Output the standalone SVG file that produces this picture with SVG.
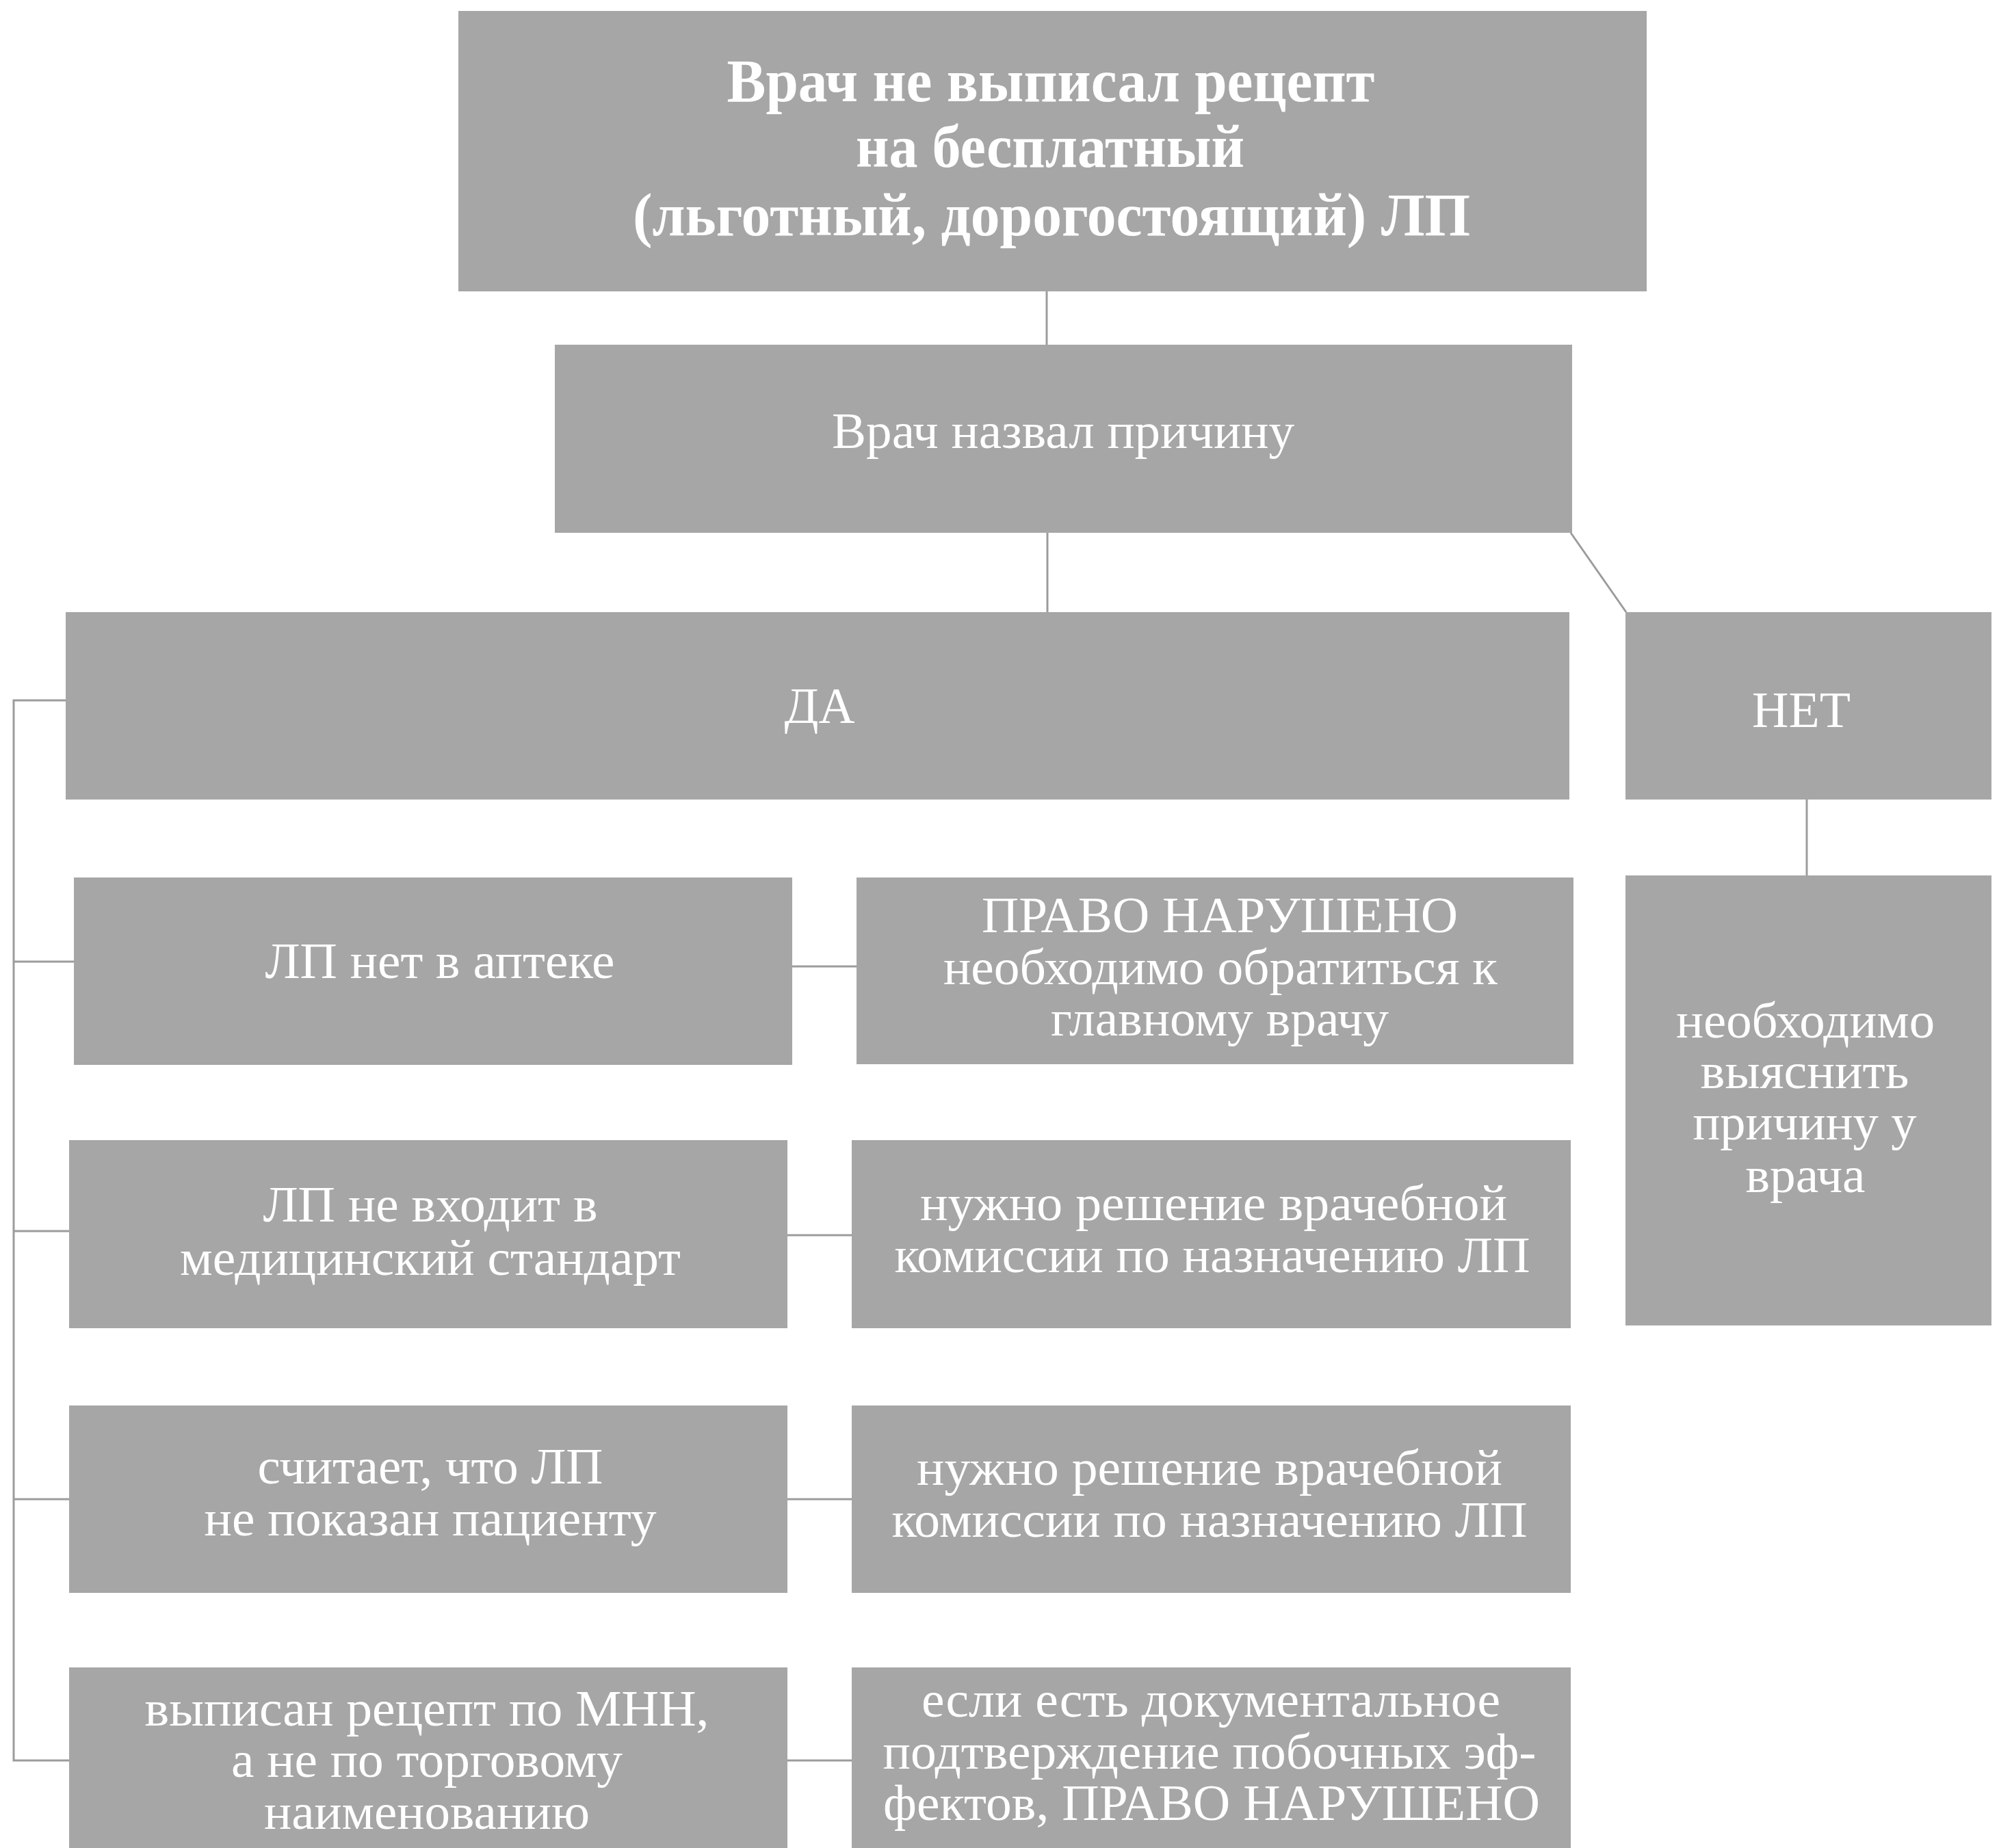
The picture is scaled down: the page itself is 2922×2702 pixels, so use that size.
<svg xmlns="http://www.w3.org/2000/svg" width="2922" height="2702" viewBox="0 0 2922 2702">
<style>
.box{fill:#a6a6a6}
.t{font-family:"Liberation Serif","Times New Roman",serif;fill:#ffffff;text-anchor:middle;font-size:74px}
.b{font-weight:bold;font-size:88px}
.c{stroke:#9c9c9c;stroke-width:3;fill:none}
</style>
<rect width="2922" height="2702" fill="#ffffff"/>
<g id="connectors">
<line class="c" x1="1530" y1="426" x2="1530" y2="504"/>
<line class="c" x1="1531" y1="779" x2="1531" y2="895"/>
<line class="c" x1="2296" y1="779" x2="2377" y2="895"/>
<line class="c" x1="2641" y1="1169" x2="2641" y2="1280"/>
<polyline class="c" points="96,1024 20,1024 20,2574 102,2574"/>
<line class="c" x1="20" y1="1406" x2="108" y2="1406"/>
<line class="c" x1="20" y1="1800" x2="101" y2="1800"/>
<line class="c" x1="20" y1="2192" x2="101" y2="2192"/>
<line class="c" x1="1158" y1="1413" x2="1252" y2="1413"/>
<line class="c" x1="1151" y1="1806" x2="1245" y2="1806"/>
<line class="c" x1="1151" y1="2192" x2="1245" y2="2192"/>
<line class="c" x1="1151" y1="2574" x2="1245" y2="2574"/>
</g>
<g id="n-top">
<rect class="box" x="670" y="16" width="1737" height="410"/>
<text class="t b" x="1536" y="148" textLength="947" lengthAdjust="spacingAndGlyphs">Врач не выписал рецепт</text>
<text class="t b" x="1535" y="244" textLength="568" lengthAdjust="spacingAndGlyphs">на бесплатный</text>
<text class="t b" x="1537" y="344" textLength="1224" lengthAdjust="spacingAndGlyphs">(льготный, дорогостоящий) ЛП</text>
</g>
<g id="n-reason">
<rect class="box" x="811" y="504" width="1487" height="275"/>
<text class="t" x="1554" y="655" textLength="676" lengthAdjust="spacingAndGlyphs">Врач назвал причину</text>
</g>
<g id="n-yes">
<rect class="box" x="96" y="895" width="2198" height="274"/>
<text class="t" x="1198" y="1057" textLength="103" lengthAdjust="spacingAndGlyphs">ДА</text>
</g>
<g id="n-no">
<rect class="box" x="2376" y="895" width="535" height="274"/>
<text class="t" x="2633" y="1063" textLength="144" lengthAdjust="spacingAndGlyphs">НЕТ</text>
</g>
<g id="n-no-res">
<rect class="box" x="2376" y="1280" width="535" height="658"/>
<text class="t" x="2639" y="1517" textLength="378" lengthAdjust="spacingAndGlyphs">необходимо</text>
<text class="t" x="2638" y="1591" textLength="305" lengthAdjust="spacingAndGlyphs">выяснить</text>
<text class="t" x="2638" y="1666" textLength="327" lengthAdjust="spacingAndGlyphs">причину у</text>
<text class="t" x="2639" y="1743" textLength="175" lengthAdjust="spacingAndGlyphs">врача</text>
</g>
<g id="n-r1-left">
<rect class="box" x="108" y="1283" width="1050" height="274"/>
<text class="t" x="643" y="1430" textLength="511" lengthAdjust="spacingAndGlyphs">ЛП нет в аптеке</text>
</g>
<g id="n-r1-right">
<rect class="box" x="1252" y="1283" width="1048" height="273"/>
<text class="t" x="1783" y="1363" textLength="696" lengthAdjust="spacingAndGlyphs">ПРАВО НАРУШЕНО</text>
<text class="t" x="1784" y="1439" textLength="810" lengthAdjust="spacingAndGlyphs">необходимо обратиться к</text>
<text class="t" x="1783" y="1514" textLength="494" lengthAdjust="spacingAndGlyphs">главному врачу</text>
</g>
<g id="n-r2-left">
<rect class="box" x="101" y="1667" width="1050" height="275"/>
<text class="t" x="629" y="1786" textLength="489" lengthAdjust="spacingAndGlyphs">ЛП не входит в</text>
<text class="t" x="629" y="1864" textLength="732" lengthAdjust="spacingAndGlyphs">медицинский стандарт</text>
</g>
<g id="n-r2-right">
<rect class="box" x="1245" y="1667" width="1051" height="275"/>
<text class="t" x="1774" y="1784" textLength="858" lengthAdjust="spacingAndGlyphs">нужно решение врачебной</text>
<text class="t" x="1772" y="1860" textLength="929" lengthAdjust="spacingAndGlyphs">комиссии по назначению ЛП</text>
</g>
<g id="n-r3-left">
<rect class="box" x="101" y="2055" width="1050" height="274"/>
<text class="t" x="629" y="2169" textLength="505" lengthAdjust="spacingAndGlyphs">считает, что ЛП</text>
<text class="t" x="629" y="2245" textLength="661" lengthAdjust="spacingAndGlyphs">не показан пациенту</text>
</g>
<g id="n-r3-right">
<rect class="box" x="1245" y="2055" width="1051" height="274"/>
<text class="t" x="1768" y="2171" textLength="856" lengthAdjust="spacingAndGlyphs">нужно решение врачебной</text>
<text class="t" x="1768" y="2247" textLength="929" lengthAdjust="spacingAndGlyphs">комиссии по назначению ЛП</text>
</g>
<g id="n-r4-left">
<rect class="box" x="101" y="2438" width="1050" height="264"/>
<text class="t" x="624" y="2523" textLength="825" lengthAdjust="spacingAndGlyphs">выписан рецепт по МНН,</text>
<text class="t" x="624" y="2598" textLength="572" lengthAdjust="spacingAndGlyphs">а не по торговому</text>
<text class="t" x="624" y="2674" textLength="476" lengthAdjust="spacingAndGlyphs">наименованию</text>
</g>
<g id="n-r4-right">
<rect class="box" x="1245" y="2438" width="1051" height="264"/>
<text class="t" x="1770" y="2510" textLength="846" lengthAdjust="spacingAndGlyphs">если есть документальное</text>
<text class="t" x="1768" y="2586" textLength="955" lengthAdjust="spacingAndGlyphs">подтверждение побочных эф-</text>
<text class="t" x="1771" y="2661" textLength="960" lengthAdjust="spacingAndGlyphs">фектов, ПРАВО НАРУШЕНО</text>
</g>
</svg>
